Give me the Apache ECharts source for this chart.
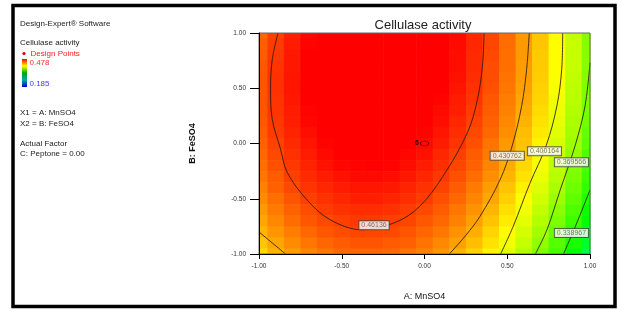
<!DOCTYPE html>
<html>
<head>
<meta charset="utf-8">
<script src="https://cdn.jsdelivr.net/npm/echarts@6/dist/echarts.min.js"></script>
<style>
  html, body { margin: 0; padding: 0; background: #fff; }
</style>
</head>
<body>
<div id="chart" style="width:621px;height:309px;"></div>
<script>
// grid of the response surface (Cellulase activity)
var xValues = [-1.0, -0.9, -0.8, -0.7, -0.6, -0.5, -0.4, -0.3, -0.2, -0.1, 0.0, 0.1, 0.2, 0.3, 0.4, 0.5, 0.6, 0.7, 0.8, 0.9, 1.0];
var yValues = [1.0, 0.9, 0.8, 0.7, 0.6, 0.5, 0.4, 0.3, 0.2, 0.1, 0.0, -0.1, -0.2, -0.3, -0.4, -0.5, -0.6, -0.7, -0.8, -0.9, -1.0];
var zRows = [
  [0.449,0.460,0.469,0.476,0.482,0.486,0.489,0.491,0.490,0.489,0.486,0.481,0.475,0.467,0.458,0.447,0.434,0.421,0.405,0.388,0.370],
  [0.451,0.461,0.470,0.477,0.483,0.487,0.490,0.491,0.491,0.489,0.486,0.481,0.475,0.467,0.458,0.447,0.434,0.421,0.405,0.389,0.370],
  [0.452,0.462,0.471,0.478,0.483,0.487,0.490,0.491,0.491,0.489,0.485,0.481,0.474,0.466,0.457,0.446,0.434,0.420,0.405,0.388,0.370],
  [0.453,0.463,0.471,0.478,0.483,0.487,0.490,0.491,0.490,0.488,0.485,0.480,0.474,0.466,0.456,0.446,0.433,0.420,0.405,0.388,0.370],
  [0.454,0.464,0.472,0.478,0.483,0.487,0.490,0.490,0.490,0.488,0.484,0.479,0.473,0.465,0.456,0.445,0.433,0.419,0.404,0.387,0.369],
  [0.454,0.464,0.472,0.478,0.483,0.487,0.489,0.490,0.489,0.487,0.483,0.478,0.472,0.464,0.455,0.444,0.432,0.418,0.403,0.386,0.368],
  [0.454,0.463,0.471,0.478,0.482,0.486,0.488,0.489,0.488,0.486,0.482,0.477,0.470,0.463,0.453,0.442,0.430,0.417,0.401,0.385,0.367],
  [0.454,0.463,0.470,0.477,0.482,0.485,0.487,0.487,0.487,0.484,0.481,0.475,0.469,0.461,0.452,0.441,0.429,0.415,0.400,0.383,0.365],
  [0.453,0.462,0.469,0.476,0.480,0.484,0.485,0.486,0.485,0.483,0.479,0.474,0.467,0.459,0.450,0.439,0.427,0.413,0.398,0.381,0.364],
  [0.452,0.461,0.468,0.474,0.479,0.482,0.484,0.484,0.483,0.481,0.477,0.472,0.465,0.457,0.448,0.437,0.424,0.411,0.396,0.379,0.361],
  [0.450,0.459,0.466,0.472,0.477,0.480,0.482,0.482,0.481,0.479,0.475,0.470,0.463,0.455,0.445,0.434,0.422,0.408,0.393,0.377,0.359],
  [0.448,0.457,0.464,0.470,0.475,0.478,0.480,0.480,0.479,0.476,0.473,0.467,0.460,0.452,0.443,0.432,0.419,0.405,0.390,0.374,0.355],
  [0.446,0.455,0.462,0.468,0.473,0.476,0.477,0.478,0.477,0.474,0.470,0.465,0.458,0.450,0.440,0.429,0.416,0.402,0.387,0.370,0.352],
  [0.444,0.452,0.460,0.466,0.470,0.473,0.475,0.475,0.474,0.471,0.467,0.462,0.455,0.447,0.437,0.426,0.413,0.399,0.384,0.367,0.349],
  [0.441,0.450,0.457,0.463,0.467,0.470,0.472,0.472,0.471,0.468,0.464,0.459,0.452,0.443,0.433,0.422,0.409,0.395,0.380,0.363,0.345],
  [0.438,0.446,0.454,0.460,0.464,0.467,0.469,0.469,0.468,0.465,0.461,0.455,0.448,0.440,0.430,0.418,0.406,0.391,0.376,0.359,0.340],
  [0.434,0.443,0.450,0.456,0.461,0.464,0.465,0.465,0.464,0.461,0.457,0.452,0.444,0.436,0.426,0.414,0.401,0.387,0.371,0.354,0.335],
  [0.430,0.439,0.447,0.453,0.457,0.460,0.462,0.462,0.460,0.458,0.453,0.448,0.441,0.432,0.422,0.410,0.397,0.383,0.367,0.349,0.330],
  [0.426,0.435,0.442,0.448,0.453,0.456,0.458,0.458,0.457,0.454,0.449,0.444,0.436,0.428,0.417,0.406,0.392,0.378,0.362,0.344,0.325],
  [0.421,0.430,0.438,0.444,0.449,0.452,0.454,0.454,0.452,0.450,0.445,0.439,0.432,0.423,0.413,0.401,0.388,0.373,0.356,0.338,0.319],
  [0.416,0.426,0.433,0.440,0.444,0.448,0.449,0.449,0.448,0.445,0.441,0.435,0.427,0.418,0.408,0.396,0.382,0.367,0.351,0.333,0.313]
];

// contour lines [A, B]
var c46136 = [[-0.885,1],[-0.92,0.76],[-0.93,0.49],[-0.92,0.22],[-0.87,-0.05],[-0.83,-0.26],[-0.71,-0.51],[-0.57,-0.69],[-0.38,-0.78],[-0.17,-0.71],[-0.03,-0.57],[0.11,-0.30],[0.26,0.10],[0.32,0.40],[0.35,0.70],[0.36,1]];
var c430762 = [[0.633,1],[0.617,0.67],[0.587,0.34],[0.53,-0.02],[0.456,-0.33],[0.335,-0.66],[0.25,-0.83],[0.15,-1]];
var c430762b = [[-1,-0.80],[-0.92,-0.90],[-0.84,-1]];
var c400164 = [[0.835,1],[0.829,0.67],[0.80,0.34],[0.735,-0.02],[0.637,-0.36],[0.536,-0.75],[0.46,-1]];
var c369566 = [[1,0.73],[0.97,0.34],[0.91,-0.02],[0.82,-0.42],[0.74,-0.78],[0.67,-1]];
var c338967 = [[1,-0.42],[0.92,-0.72],[0.84,-1]];
var contourLabels = [[-0.305,-0.74,'0.46136'],[0.50,-0.11,'0.430762'],[0.725,-0.07,'0.400164'],[0.888,-0.17,'0.369566'],[0.888,-0.81,'0.338967']];

var designPoints = [[0, 0, '6']];
var colorMin = 0.185, colorMax = 0.478;

var cells = [];
for (var i = 0; i < yValues.length; i++) {
  for (var j = 0; j < xValues.length; j++) {
    cells.push([xValues[j], yValues[i], zRows[i][j]]);
  }
}
var half = (xValues[1] - xValues[0]) / 2;

var font = '"Liberation Sans", Arial, sans-serif';
var myChart = echarts.init(document.getElementById('chart'));

function txt(s, x, y, size, color, extra) {
  var o = { type: 'text', style: { text: s, x: x, y: y, fill: color || '#222', fontSize: size, fontFamily: font, verticalAlign: 'middle' } };
  if (extra) for (var k in extra) o.style[k] = extra[k];
  return o;
}

function contour(data) {
  return {
    type: 'line', data: data, showSymbol: false, smooth: 0.35, silent: true,
    lineStyle: { color: '#2a1a10', width: 1, opacity: 0.85 }, z: 3
  };
}

var option = {
  animation: false,
  backgroundColor: '#fff',
  grid: { left: 259, top: 33, width: 331, height: 221, show: true, borderColor: '#666', borderWidth: 1, z: 5 },
  xAxis: {
    type: 'value', min: -1, max: 1, interval: 0.5, z: 6,
    axisLine: { show: true, onZero: false, lineStyle: { color: '#000' } },
    axisTick: { show: true, length: 5, lineStyle: { color: '#000' } },
    axisLabel: { fontSize: 6.5, color: '#333', margin: 9, fontFamily: font, formatter: function (v) { return v.toFixed(2); } },
    splitLine: { show: false },
    name: 'A: MnSO4', nameLocation: 'middle', nameGap: 38,
    nameTextStyle: { fontSize: 9, color: '#111', fontFamily: font }
  },
  yAxis: {
    type: 'value', min: -1, max: 1, interval: 0.5, z: 6,
    axisLine: { show: true, onZero: false, lineStyle: { color: '#000' } },
    axisTick: { show: true, length: 9, lineStyle: { color: '#000' } },
    axisLabel: { fontSize: 6.5, color: '#333', margin: 13, fontFamily: font, formatter: function (v) { return v.toFixed(2); } },
    splitLine: { show: false },
    name: 'B: FeSO4', nameLocation: 'middle', nameGap: 62,
    nameTextStyle: { fontSize: 9, color: '#111', fontFamily: font, fontWeight: 'bold' }
  },
  visualMap: {
    show: false, type: 'continuous', min: colorMin, max: colorMax, dimension: 2, seriesIndex: 0,
    inRange: { color: ['#0000ff', '#00ffff', '#00ff00', '#ffff00', '#ff0000'] }
  },
  series: [
    {
      type: 'custom', data: cells, encode: { x: 0, y: 1 }, silent: true, z: 1,
      renderItem: function (params, api) {
        var x = api.value(0), y = api.value(1);
        var p0 = api.coord([Math.max(x - half, -1), Math.min(y + half, 1)]);
        var p1 = api.coord([Math.min(x + half, 1), Math.max(y - half, -1)]);
        return {
          type: 'rect',
          shape: { x: p0[0], y: p0[1], width: p1[0] - p0[0] + 0.6, height: p1[1] - p0[1] + 0.6 },
          style: { fill: api.visual('color') }
        };
      }
    },
    contour(c46136), contour(c430762), contour(c430762b), contour(c400164), contour(c369566), contour(c338967),
    {
      type: 'scatter', data: contourLabels, symbolSize: 1, silent: true, z: 4,
      itemStyle: { color: 'rgba(0,0,0,0)' },
      label: {
        show: true, position: 'inside', formatter: function (p) { return p.data[2]; },
        fontSize: 7, color: '#555', fontFamily: font, backgroundColor: '#fff',
        borderColor: '#444', borderWidth: 1, padding: [1, 2, 0, 2]
      }
    },
    {
      type: 'scatter', data: designPoints, symbol: 'circle', symbolSize: [8, 5], silent: true, z: 4,
      itemStyle: { color: 'rgba(0,0,0,0)', borderColor: '#111', borderWidth: 0.8 },
      label: {
        show: true, position: 'left', distance: 1, formatter: function (p) { return p.data[2]; },
        fontSize: 7, fontWeight: 'bold', color: '#000', fontFamily: font
      }
    }
  ],
  graphic: [
    { type: 'rect', shape: { x: 13, y: 5.5, width: 602, height: 301 }, style: { fill: 'none', stroke: '#000', lineWidth: 3.5 }, silent: true },
    txt('Cellulase activity', 423, 25, 13, '#222', { align: 'center' }),
    txt('Design-Expert\u00ae Software', 20, 24, 8, '#222'),
    txt('Cellulase activity', 20, 43, 8, '#222'),
    { type: 'circle', shape: { cx: 24, cy: 53.5, r: 1.6 }, style: { fill: '#cc0000' } },
    txt('Design Points', 30.5, 53.5, 8, '#ff2020'),
    {
      type: 'rect', shape: { x: 22, y: 59, width: 5, height: 28 },
      style: {
        fill: new echarts.graphic.LinearGradient(0, 0, 0, 1, [
          { offset: 0, color: '#ff0000' }, { offset: 0.25, color: '#ffff00' }, { offset: 0.5, color: '#00aa00' },
          { offset: 0.75, color: '#00aaaa' }, { offset: 1, color: '#0000cc' }
        ])
      }
    },
    txt('0.478', 29.5, 63, 8, '#ff3030'),
    txt('0.185', 29.5, 83.5, 8, '#4040ff'),
    txt('X1 = A: MnSO4', 20, 113, 8, '#222'),
    txt('X2 = B: FeSO4', 20, 124, 8, '#222'),
    txt('Actual Factor', 20, 144, 8, '#222'),
    txt('C: Peptone = 0.00', 20, 154, 8, '#222')
  ]
};

option && myChart.setOption(option);
</script>
</body>
</html>
